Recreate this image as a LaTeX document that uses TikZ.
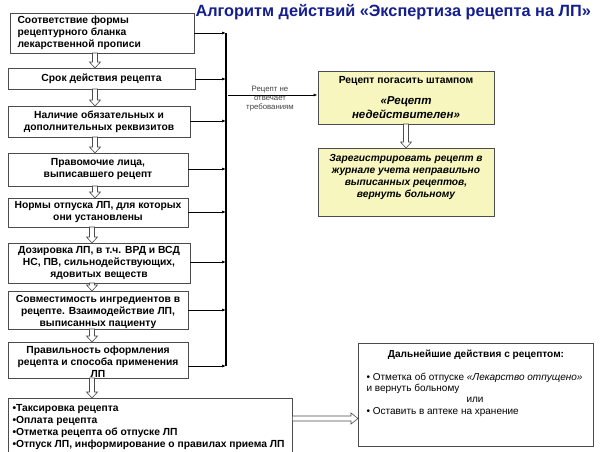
\documentclass[tikz,border=0pt]{standalone}
\usepackage{fontspec}
\setmainfont{Liberation Sans}
\usetikzlibrary{arrows.meta,calc}
\definecolor{ttl}{RGB}{20,30,140}
\definecolor{yel}{RGB}{246,246,190}
\begin{document}
\begin{tikzpicture}[x=1pt,y=-1pt,
  box/.style={draw=black!70,line width=0.8pt,fill=white,inner sep=1pt},
  ybox/.style={box,fill=yel},
  bt/.style={font=\fontsize{10.3}{12}\selectfont\bfseries,align=center},
  conn/.style={line width=0.8pt,-{Latex[length=4pt,width=3pt]}},
  hol/.style={draw=black!70,line width=0.6pt,fill=white}]
\useasboundingbox (0,0) rectangle (605,451);
\node[font=\fontsize{16.3}{18}\selectfont\bfseries,text=ttl,anchor=west] (t) at (192,12) {Алгоритм действий «Экспертиза рецепта на ЛП»};
\newcommand{\bx}[6]{\node[#6,minimum width=#3-#2,minimum height=#5-#4] (#1) at ({(#2+#3)/2},{(#4+#5)/2}) {};}
\newcommand{\hv}[3]{% vertical hollow arrow at x=#1 from y #2 to #3
  \draw[hol] (#1-2.5,#2) -- (#1+2.5,#2) -- (#1+2.5,#3-6) -- (#1+5.5,#3-6) -- (#1,#3) -- (#1-5.5,#3-6) -- (#1-2.5,#3-6) -- cycle;}
\bx{b1}{10}{194}{13}{53}{box}
\node[bt,align=left,anchor=west] at (14,33) {Соответствие формы\\рецептурного бланка\\лекарственной прописи};
\bx{b2}{8}{195}{68}{89}{box}
\node[bt] at (b2) {Срок действия рецепта};
\bx{b3}{8}{190}{106}{137}{box}
\node[bt] at (b3) {Наличие обязательных и\\дополнительных реквизитов};
\bx{b4}{8}{188}{153}{186}{box}
\node[bt] at (b4) {Правомочие лица,\\выписавшего рецепт};
\bx{b5}{8}{188}{198}{227}{box}
\node[bt] at (b5) {Нормы отпуска ЛП, для которых\\они установлены};
\bx{b6}{8}{190}{243}{283}{box}
\node[bt] at (b6) {Дозировка ЛП, в т.ч. ВРД и ВСД\\НС, ПВ, сильнодействующих,\\ядовитых веществ};
\bx{b7}{8}{188}{291}{329}{box}
\node[bt] at ($(b7)+(0,2)$) {Совместимость ингредиентов в\\рецепте. Взаимодействие ЛП,\\выписанных пациенту};
\bx{b8}{8}{188}{342}{378}{box}
\node[bt] at ($(b8)+(0,2)$) {Правильность оформления\\рецепта и способа применения\\ЛП};
\bx{b9}{8}{292}{398}{455}{box}
\node[bt,align=left,anchor=north west] at (9,401) {•Таксировка рецепта\\•Оплата рецепта\\•Отметка рецепта об отпуске ЛП\\•Отпуск ЛП, информирование о правилах приема ЛП};
\bx{y1}{318}{494}{71}{124}{ybox}
\node[bt] at (406,81) {Рецепт погасить штампом};
\node[font=\fontsize{11.5}{14}\selectfont\bfseries\itshape,align=center] at (406,108) {«Рецепт\\недействителен»};
\bx{y2}{318}{494}{148}{216}{ybox}
\node[font=\fontsize{10.2}{12}\selectfont\bfseries\itshape,align=center,anchor=north] at (406,151) {Зарегистрировать рецепт в\\журнале учета неправильно\\выписанных рецептов,\\вернуть больному};
\bx{r}{358}{593}{343}{446}{box}
\node[font=\fontsize{10.1}{12}\selectfont\bfseries] at (476,355) {Дальнейшие действия с рецептом:};
\node[font=\fontsize{10}{11}\selectfont,align=left,anchor=north west] at (363,370) {• Отметка об отпуске \textit{«Лекарство отпущено»}\\и вернуть больному};
\node[font=\fontsize{10}{11}\selectfont] at (475,400) {или};
\node[font=\fontsize{10}{11}\selectfont,anchor=west] at (363,412) {• Оставить в аптеке на хранение};
% bus
\coordinate (top) at (226,33);
\coordinate (bot) at (226,366);
\draw[line width=1.2pt] (top) -- (bot);
\foreach \b/\yy in {b1/33,b2/79,b3/121,b4/169,b5/212,b6/262,b7/310,b8/366}
  \draw[conn] (\b.east|-0,\yy) -- (226,\yy);
\coordinate (bx) at (228,95);
\draw[conn] (bx) -- (y1.west|-bx);
\node[font=\fontsize{7.8}{9}\selectfont,text=black!75,align=center] at (270,99) {Рецепт не\\отвечает\\требованиям};
% hollow arrows
\hv{95}{53}{68}
\hv{95}{89}{106}
\hv{95}{137}{153}
\hv{95}{186}{198}
\hv{92}{227}{243}
\hv{92}{283}{291}
\hv{92}{329}{342}
\hv{92}{378}{398}
\hv{406}{124}{148}
\draw[hol] (b9.east|-0,416) -- (351,416) -- (351,413) -- (358,418.5) -- (351,424) -- (351,421) -- (b9.east|-0,421) -- cycle;
\end{tikzpicture}
\end{document}
